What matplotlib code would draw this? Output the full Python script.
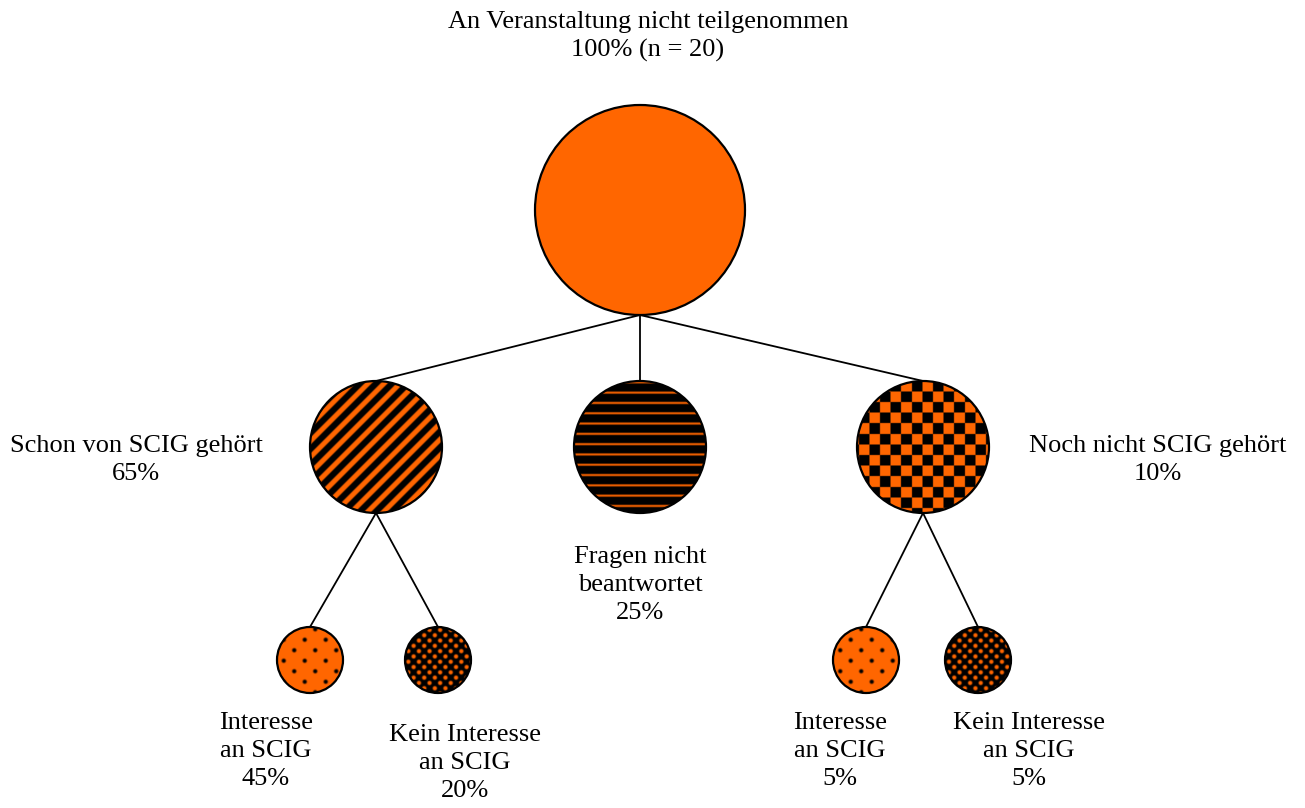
import numpy as np
import matplotlib
matplotlib.use('Agg')
import matplotlib.pyplot as plt
from matplotlib.patches import Circle

# Tree of survey answers (labels and shares in percent)
root_label = ['An Veranstaltung nicht teilgenommen', '100% (n = 20)']
mid_labels = [['Schon von SCIG gehört', '65%'],
              ['Fragen nicht', 'beantwortet', '25%'],
              ['Noch nicht SCIG gehört', '10%']]
mid_values = [65, 25, 10]
leaf_labels = [['Interesse', 'an SCIG', '45%'],
               ['Kein Interesse', 'an SCIG', '20%'],
               ['Interesse', 'an SCIG', '5%'],
               ['Kein Interesse', 'an SCIG', '5%']]
leaf_values = [45, 20, 5, 5]
leaf_parent = [0, 0, 2, 2]

ORANGE = np.array([1.0, 0.4, 0.0])
BLACK = np.array([0.0, 0.0, 0.0])


def smooth(v):
  return np.clip(v, 0, 1)


def dist_staggered(xx, yy, s):
  # distance to nearest point of a staggered dot grid with period s
  gx = xx / s
  gy = yy / s
  d1 = np.hypot(gx - np.round(gx), gy - np.round(gy))
  d2 = np.hypot(gx - 0.5 - np.round(gx - 0.5), gy - 0.5 - np.round(gy - 0.5))
  return np.minimum(d1, d2) * s


def texture(kind, xx, yy):
  # returns fraction of orange at each pixel
  if kind == 'solid':
    return np.ones_like(xx)
  if kind == 'diag':
    ph = np.cos(2 * np.pi * (xx + yy) / 16.0)
    return smooth(1.8 * ph + 0.2)
  if kind == 'horiz':
    ph = np.cos(2 * np.pi * (yy - 2) / 10.3)
    return smooth(2.5 * ph - 1.5)
  if kind == 'checker':
    return ((np.floor(xx / 10.6) + np.floor(yy / 10.6)) % 2).astype(float)
  if kind == 'dots_dark':
    return smooth(0.6 * (dist_staggered(xx, yy, 21.0) - 1.2))
  if kind == 'dots_light':
    return smooth(0.7 * (2.8 - dist_staggered(xx, yy, 10.6)))
  return np.ones_like(xx)


def draw_node(ax, cx, cy, r, kind):
  xs = np.arange(cx - r - 2, cx + r + 2, 0.5)
  ys = np.arange(cy - r - 2, cy + r + 2, 0.5)
  xx, yy = np.meshgrid(xs, ys)
  m = texture(kind, xx, yy)[..., None]
  img = m * ORANGE + (1 - m) * BLACK
  circ = Circle((cx, cy), r, facecolor='none', edgecolor='black', lw=1.6, zorder=4)
  ax.add_patch(circ)
  im = ax.imshow(img, extent=(xs[0], xs[-1], ys[-1], ys[0]), interpolation='bilinear', zorder=3)
  im.set_clip_path(circ)


def label(ax, x, y, lines):
  for i, t in enumerate(lines):
    ax.text(x, y + i * 28, t, ha='center', va='center', fontsize=19,
            family='Liberation Serif')


fig = plt.figure(figsize=(13.05, 8.08), dpi=100)
ax = fig.add_axes([0, 0, 1, 1])
ax.axis('off')

root = (640, 210, 105)
mids = [(376, 447, 66), (640, 447, 66), (923, 447, 66)]
leaves = [(310, 660, 33), (438, 660, 33), (866, 660, 33), (978, 660, 33)]
mid_kinds = ['diag', 'horiz', 'checker']
leaf_kinds = ['dots_dark', 'dots_light', 'dots_dark', 'dots_light']

for (mx, my, mr) in mids:
  ax.plot([root[0], mx], [root[1] + root[2], my - mr], color='black', lw=1.3, zorder=1)
for (lx, ly, lr), p in zip(leaves, leaf_parent):
  px, py, pr = mids[p]
  ax.plot([px, lx], [py + pr, ly - lr], color='black', lw=1.3, zorder=1)

draw_node(ax, *root, 'solid')
for c, k in zip(mids, mid_kinds):
  draw_node(ax, *c, k)
for c, k in zip(leaves, leaf_kinds):
  draw_node(ax, *c, k)

label(ax, 648, 22, root_label)
label(ax, 136, 446, mid_labels[0])
label(ax, 640, 557, mid_labels[1])
label(ax, 1158, 446, mid_labels[2])
label(ax, 266, 723, leaf_labels[0])
label(ax, 465, 735, leaf_labels[1])
label(ax, 840, 723, leaf_labels[2])
label(ax, 1029, 723, leaf_labels[3])

ax.set_xlim(0, 1305)
ax.set_ylim(808, 0)
fig.savefig('out.png', dpi=100)
